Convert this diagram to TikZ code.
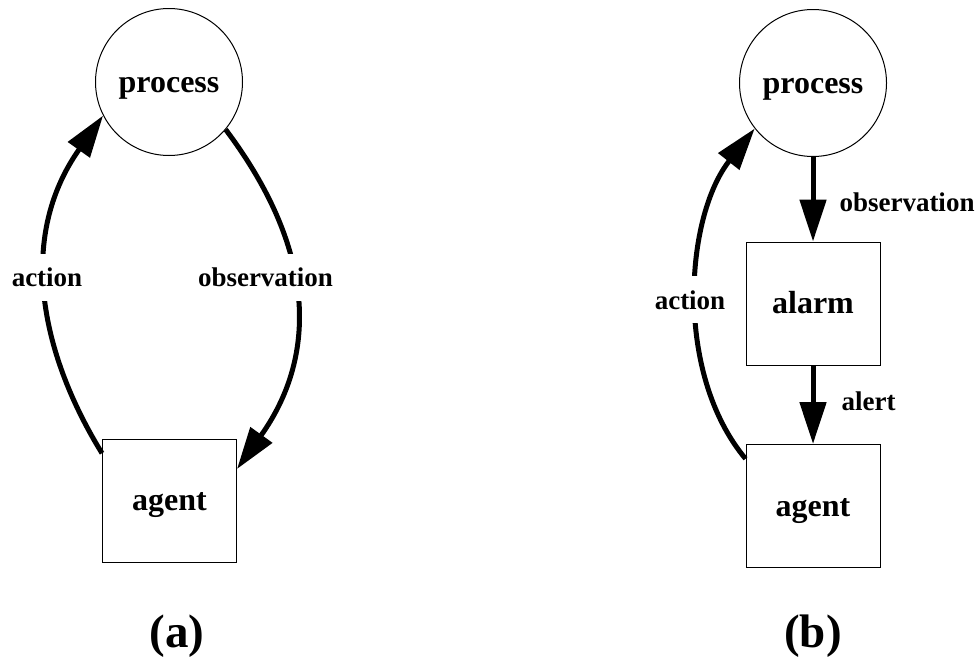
\documentclass[tikz,border=0pt]{standalone}
\usepackage{fontspec}
\setmainfont{Liberation Serif}
\usetikzlibrary{arrows.meta}
\begin{document}
\begin{tikzpicture}[x=1pt,y=-1pt,
  state/.style={draw, line width=1pt, circle, minimum size=147pt, inner sep=0pt,
    font=\fontsize{32}{36}\selectfont\bfseries, text height=26pt, text depth=6pt},
  block/.style={draw, line width=1pt, rectangle, minimum width=134pt, minimum height=123pt,
    inner sep=0pt, font=\fontsize{32}{36}\selectfont\bfseries, text height=26pt, text depth=6pt},
  flow/.style={line width=5pt, -{Triangle[length=42pt,width=26pt]}},
  edgelabel/.style={fill=white, anchor=base, inner xsep=2pt, inner ysep=14pt,
    font=\fontsize{27}{30}\selectfont\bfseries},
  caption/.style={anchor=base, font=\fontsize{47}{52}\selectfont\bfseries}]
  \useasboundingbox (0,0) rectangle (979,656);

  % (a) agent acting directly on the process
  \node[state] (proc1) at (169,82) {process};
  \node[block] (agent1) at (169.5,500.5) {agent};
  \draw[flow] (agent1.145) .. controls (43,357.5) and (15,240) .. (proc1.207);
  \draw[flow] (proc1.-40) .. controls (320,255) and (315,360) .. (agent1.25);
  \node[edgelabel] (lact1) at (47,286.7) {action};
  \node[edgelabel] (lobs1) at (265.5,286.7) {observation};
  \node[caption] (capa) at (177,647) {(a)};

  % (b) observations filtered through an alarm
  \node[state] (proc2) at (813,83) {process};
  \node[block] (alarm) at (813,303.5) {alarm};
  \node[block] (agent2) at (813,506) {agent};
  \draw[flow] (proc2) -- (alarm);
  \draw[flow] (alarm) -- (agent2);
  \draw[flow] (agent2.145) .. controls (674,373) and (685,217) .. (proc2.218);
  \node[edgelabel] (lobs2) at (907,211.5) {observation};
  \node[edgelabel] (lalert) at (868.5,410) {alert};
  \node[edgelabel] (lact2) at (690,309) {action};
  \node[caption] (capb) at (813,647) {(b)};
\end{tikzpicture}
\end{document}
